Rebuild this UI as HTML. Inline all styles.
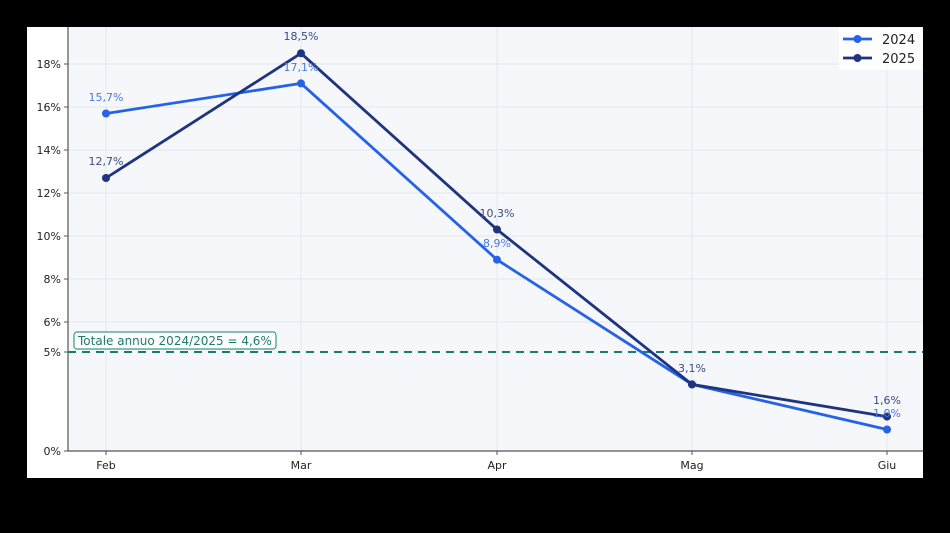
<!DOCTYPE html>
<html><head><meta charset="utf-8"><style>
html,body{margin:0;padding:0;background:#000;}
svg{display:block;font-family:"DejaVu Sans","Liberation Sans",sans-serif;}
</style></head><body>
<svg width="950" height="533" viewBox="0 0 950 533" xmlns="http://www.w3.org/2000/svg">
<rect x="0" y="0" width="950" height="533" fill="#000"/>
<rect x="27" y="27" width="896" height="451" fill="#fff"/>
<rect x="68" y="27" width="855" height="424" fill="#f5f7fa"/>
<g stroke="#e3e7ec" stroke-width="1">
<line x1="68" x2="923" y1="64" y2="64"/><line x1="68" x2="923" y1="107" y2="107"/>
<line x1="68" x2="923" y1="150" y2="150"/><line x1="68" x2="923" y1="193" y2="193"/>
<line x1="68" x2="923" y1="236" y2="236"/><line x1="68" x2="923" y1="279" y2="279"/>
<line x1="68" x2="923" y1="322" y2="322"/>
<line x1="106" x2="106" y1="27" y2="451"/><line x1="301" x2="301" y1="27" y2="451"/>
<line x1="497" x2="497" y1="27" y2="451"/><line x1="692" x2="692" y1="27" y2="451"/>
<line x1="887" x2="887" y1="27" y2="451"/>
</g>
<line x1="68" y1="27" x2="68" y2="451" stroke="#555" stroke-width="1.2"/>
<line x1="68" y1="451" x2="923" y2="451" stroke="#555" stroke-width="1.2"/>
<g stroke="#555"><line x1="64" x2="68" y1="64" y2="64"/><line x1="64" x2="68" y1="107" y2="107"/><line x1="64" x2="68" y1="150" y2="150"/><line x1="64" x2="68" y1="193" y2="193"/><line x1="64" x2="68" y1="236" y2="236"/><line x1="64" x2="68" y1="279" y2="279"/><line x1="64" x2="68" y1="322" y2="322"/><line x1="64" x2="68" y1="352" y2="352"/><line x1="64" x2="68" y1="451" y2="451"/>
<line x1="106" x2="106" y1="451" y2="455"/><line x1="301" x2="301" y1="451" y2="455"/><line x1="497" x2="497" y1="451" y2="455"/><line x1="692" x2="692" y1="451" y2="455"/><line x1="887" x2="887" y1="451" y2="455"/></g>
<g font-size="11" fill="#222" text-anchor="end">
<text x="61" y="68">18%</text><text x="61" y="111">16%</text><text x="61" y="154">14%</text><text x="61" y="197">12%</text><text x="61" y="240">10%</text><text x="61" y="283">8%</text><text x="61" y="326">6%</text><text x="61" y="356">5%</text><text x="61" y="455">0%</text>
</g>
<g font-size="11" fill="#222" text-anchor="middle">
<text x="106" y="469">Feb</text><text x="301" y="469">Mar</text><text x="497" y="469">Apr</text><text x="692" y="469">Mag</text><text x="887" y="469">Giu</text>
</g>
<line x1="68" y1="352" x2="923" y2="352" stroke="#1f7a6e" stroke-width="2" stroke-dasharray="8,6"/>
<rect x="74" y="332" width="202" height="17" rx="3" fill="#fff" stroke="#3a9a8a" stroke-width="1.2"/>
<text x="78" y="345" font-size="12" fill="#1f7a6e">Totale annuo 2024/2025 = 4,6%</text>
<polyline points="106,113.5 301,83.4 497,259.7 692,384.4 887,429.5" fill="none" stroke="#2563e6" stroke-width="2.8"/>
<g fill="#2563e6"><circle cx="106" cy="113.5" r="4"/><circle cx="301" cy="83.4" r="4"/><circle cx="497" cy="259.7" r="4"/><circle cx="692" cy="384.4" r="4"/><circle cx="887" cy="429.5" r="4"/></g>
<polyline points="106,178 301,53.3 497,229.5 692,384.4 887,416.6" fill="none" stroke="#1e347f" stroke-width="2.8"/>
<g fill="#1e347f"><circle cx="106" cy="178" r="4"/><circle cx="301" cy="53.3" r="4"/><circle cx="497" cy="229.5" r="4"/><circle cx="692" cy="384.4" r="4"/><circle cx="887" cy="416.6" r="4"/></g>
<g font-size="11" text-anchor="middle" fill="#4a78e0">
<text x="106" y="101">15,7%</text><text x="301" y="71">17,1%</text><text x="497" y="247">8,9%</text><text x="887" y="417">1,0%</text>
</g>
<g font-size="11" text-anchor="middle" fill="#3a4a8a">
<text x="106" y="165">12,7%</text><text x="301" y="40">18,5%</text><text x="497" y="217">10,3%</text><text x="692" y="372">3,1%</text><text x="887" y="404">1,6%</text>
</g>
<rect x="839" y="28" width="83" height="42" fill="#fff" opacity="0.85"/>
<line x1="843" y1="39" x2="872" y2="39" stroke="#2563e6" stroke-width="2.8"/><circle cx="857.5" cy="39" r="4" fill="#2563e6"/>
<line x1="843" y1="58" x2="872" y2="58" stroke="#1e347f" stroke-width="2.8"/><circle cx="857.5" cy="58" r="4" fill="#1e347f"/>
<text x="882" y="44" font-size="13" fill="#222">2024</text>
<text x="882" y="63" font-size="13" fill="#222">2025</text>
</svg>
</body></html>
